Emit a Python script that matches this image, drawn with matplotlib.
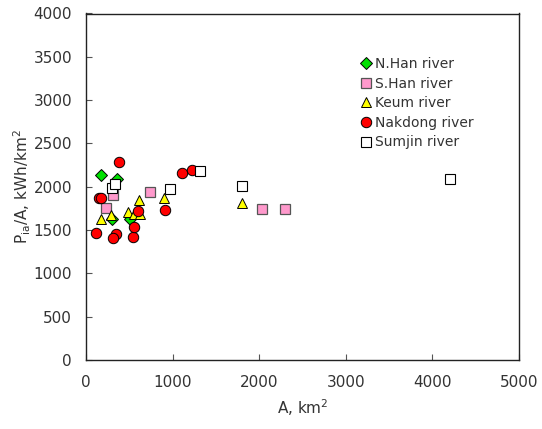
import matplotlib
matplotlib.use("Agg")
import matplotlib.pyplot as plt

plt.rcParams['font.family'] = ['DejaVu Sans']

# Data
nhan_x = [170, 360, 305, 505]
nhan_y = [2140, 2090, 1625, 1628]

shan_x = [310, 230, 740, 2030, 2300]
shan_y = [1900, 1755, 1935, 1744, 1744]

keum_x = [175, 285, 487, 550, 620, 612, 895, 1806]
keum_y = [1630, 1677, 1713, 1690, 1690, 1843, 1867, 1817]

nak_x = [380, 150, 177, 120, 350, 312, 540, 560, 605, 910, 1106, 1221]
nak_y = [2290, 1873, 1868, 1463, 1458, 1410, 1415, 1540, 1722, 1732, 2163, 2194]

sum_x = [300, 335, 965, 1312, 1806, 4206]
sum_y = [1982, 2035, 1978, 2186, 2012, 2094]

x_ticks = [0, 1000, 2000, 3000, 4000, 5000]
y_ticks = [0, 500, 1000, 1500, 2000, 2500, 3000, 3500, 4000]

fig = plt.figure(figsize=(5.42, 4.29), dpi=100)
ax = fig.add_axes([86/542, 69/429, (519-86)/542, (360-13.5)/429])

tc = '#333333'
ax.plot(nhan_x, nhan_y, linestyle='none', marker='D', ms=6, mfc='#00E000',
        mec='black', mew=0.7, label='N.Han river')
ax.plot(shan_x, shan_y, linestyle='none', marker='s', ms=7, mfc='#FF99CC',
        mec='#555555', mew=0.9, label='S.Han river')
ax.plot(keum_x, keum_y, linestyle='none', marker='^', ms=7.5, mfc='#FFFF00',
        mec='black', mew=0.7, label='Keum river')
ax.plot(nak_x, nak_y, linestyle='none', marker='o', ms=7.5, mfc='#FF0000',
        mec='black', mew=0.7, label='Nakdong river')
ax.plot(sum_x, sum_y, linestyle='none', marker='s', ms=7, mfc='white',
        mec='black', mew=0.8, label='Sumjin river')

ax.set_xlim(0, 5000)
ax.set_ylim(0, 4000)
ax.set_xticks(x_ticks)
ax.set_yticks(y_ticks)
ax.tick_params(direction='in', length=4, width=0.8, labelsize=11,
               labelcolor=tc, color='#555555')
ax.tick_params(axis='x', pad=11)
ax.tick_params(axis='y', pad=10)
for s in ax.spines.values():
    s.set_linewidth(1.0)
    s.set_color('#222222')

ax.set_xlabel(r'A, km$^2$', fontsize=11, color=tc, labelpad=5)
ax.set_ylabel(r'P$_{\mathregular{ia}}$/A, kWh/km$^2$', fontsize=11, color=tc, labelpad=0)

leg = ax.legend(loc='upper left', bbox_to_anchor=(0.625, 0.89), frameon=False,
                fontsize=10, handlelength=0.6, handletextpad=0.3,
                labelspacing=0.4, borderaxespad=0)
for t in leg.get_texts():
    t.set_color(tc)

fig.savefig('out.png', dpi=100)
